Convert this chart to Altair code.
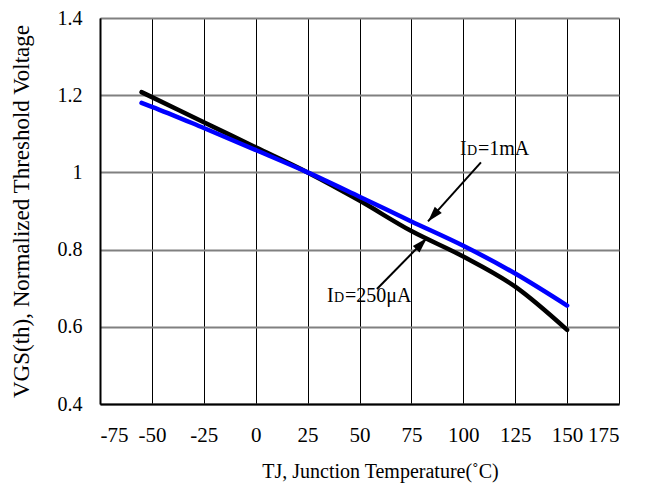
import altair as alt
import pandas as pd

# ---- data ----
temps = [-55, -50, -25, 0, 25, 50, 75, 100, 125, 150]
v_250uA = [1.208, 1.195, 1.13, 1.065, 1.0, 0.927, 0.848, 0.782, 0.704, 0.592]
v_1mA = [1.18, 1.17, 1.115, 1.058, 1.0, 0.937, 0.873, 0.81, 0.738, 0.655]

x_ticks = [-75, -50, -25, 0, 25, 50, 75, 100, 125, 150, 175]
y_ticks = [0.4, 0.6, 0.8, 1.0, 1.2, 1.4]

# annotation arrows (tail -> tip, data units)
arrow_tail_x = [108.5, 58.4]
arrow_tail_y = [1.026, 0.698]
arrow_tip_x = [83.0, 82.5]
arrow_tip_y = [0.873, 0.830]
arrow_angle = [221.5, 43.9]

# annotation text pieces: label anchor + pieces
label_x = [98.4, 34.3]
label_y = [1.046, 0.665]
label_tail = ["=1mA", "=250\u03bcA"]

FONT = "Liberation Serif"

curves = pd.DataFrame({
    "T": temps * 2,
    "V": v_250uA + v_1mA,
    "series": ["250uA"] * len(temps) + ["1mA"] * len(temps),
    "order": list(range(len(temps))) * 2,
})

x_scale = alt.Scale(domain=[-75, 175], nice=False, zero=False)
y_scale = alt.Scale(domain=[0.4, 1.4], nice=False, zero=False)

x_enc = alt.X("T:Q", scale=x_scale,
              axis=alt.Axis(values=x_ticks, title="TJ, Junction Temperature(\u02daC)",
                            labelExpr="datum.value + ''",
                            grid=True, gridColor="#000000", gridWidth=1,
                            domainColor="#000000", domainWidth=2, ticks=False,
                            labelFont=FONT, labelFontSize=21, labelColor="#000000",
                            labelPadding=20, titleFont=FONT, titleFontSize=20,
                            titleFontWeight="normal", titleColor="#000000", titlePadding=16,
                            titleX=280, titleAlign="center"))
y_enc = alt.Y("V:Q", scale=y_scale,
              axis=alt.Axis(values=y_ticks, title="VGS(th), Normalized Threshold Voltage",
                            labelExpr="datum.value == 1 ? '1' : format(datum.value, '.1f')",
                            grid=True, gridColor="#808080", gridWidth=2,
                            domainColor="#000000", domainWidth=2, ticks=False,
                            labelFont=FONT, labelFontSize=20, labelColor="#000000",
                            labelPadding=18, titleFont=FONT, titleFontSize=23,
                            titleFontWeight="normal", titleColor="#000000", titlePadding=24))

black_line = alt.Chart(curves).transform_filter(alt.datum.series == "250uA").mark_line(
    color="#000000", strokeWidth=4.5, strokeCap="round", strokeJoin="round",
    interpolate="monotone"
).encode(x=x_enc, y=y_enc, order="order:Q")

blue_line = alt.Chart(curves).transform_filter(alt.datum.series == "1mA").mark_line(
    color="#0000ff", strokeWidth=4.5, strokeCap="round", strokeJoin="round",
    interpolate="monotone"
).encode(x="T:Q", y="V:Q", order="order:Q")

arrows = pd.DataFrame({
    "x": arrow_tail_x, "y": arrow_tail_y,
    "x2": arrow_tip_x, "y2": arrow_tip_y, "angle": arrow_angle,
})

shafts = alt.Chart(arrows).mark_rule(color="#000000", strokeWidth=2).encode(
    x="x:Q", y="y:Q", x2="x2:Q", y2="y2:Q")

heads = alt.Chart(arrows).mark_point(
    shape="M0,0L-0.6,2L0.6,2Z", filled=True, color="#000000", size=240, opacity=1
).encode(x="x2:Q", y="y2:Q", angle=alt.Angle("angle:Q", scale=None))

labels = pd.DataFrame({"x": label_x, "y": label_y, "tail": label_tail})

lab_I = alt.Chart(labels).mark_text(
    text="I", font=FONT, fontSize=20, align="left", baseline="alphabetic", color="#000000"
).encode(x="x:Q", y="y:Q")
lab_D = alt.Chart(labels).mark_text(
    text="D", font=FONT, fontSize=14, align="left", baseline="alphabetic", dx=7, color="#000000"
).encode(x="x:Q", y="y:Q")
lab_tail = alt.Chart(labels).mark_text(
    font=FONT, fontSize=20, align="left", baseline="alphabetic", dx=18, color="#000000"
).encode(x="x:Q", y="y:Q", text="tail:N")

chart = alt.layer(black_line, blue_line, shafts, heads, lab_I, lab_D, lab_tail).properties(
    width=519, height=386,
    autosize=alt.AutoSizeParams(type="none"),
    padding={"left": 92, "top": 10, "right": 21, "bottom": 80},
).configure_view(stroke="#808080", strokeWidth=2).configure(background="#ffffff")

chart.save("out.html", embed_options={"renderer": "svg", "actions": False})
